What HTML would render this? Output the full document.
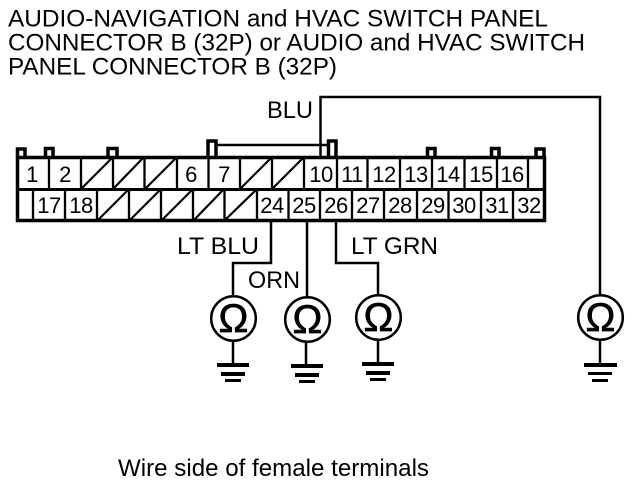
<!DOCTYPE html>
<html>
<head>
<meta charset="utf-8">
<style>
html,body{margin:0;padding:0;background:#fff;width:640px;height:490px;overflow:hidden}
svg{display:block}
text{font-family:"Liberation Sans",sans-serif;fill:#000}
.t{font-size:24px}
.n{font-size:22px;text-anchor:middle;letter-spacing:-0.5px}
.l{font-size:24px}
.o{font-size:40px;text-anchor:middle;stroke:#000;stroke-width:0.7px}
</style>
</head>
<body>
<svg width="640" height="490" viewBox="0 0 640 490" xmlns="http://www.w3.org/2000/svg">
<rect width="640" height="490" fill="#fff"/>
<text class="t" x="8" y="26.5" textLength="540" lengthAdjust="spacingAndGlyphs">AUDIO-NAVIGATION and HVAC SWITCH PANEL</text>
<text class="t" x="8" y="50.5" textLength="577" lengthAdjust="spacingAndGlyphs">CONNECTOR B (32P) or AUDIO and HVAC SWITCH</text>
<text class="t" x="8" y="74.5" textLength="329" lengthAdjust="spacingAndGlyphs">PANEL CONNECTOR B (32P)</text>

<g fill="none" stroke="#000" stroke-width="2">
<path d="M320.5 157V97H600V296" stroke-width="2.5"/>
<path d="M217 145H328" stroke-width="2.5"/>
<path d="M17.5 157V149H25V157M45.500 157V148.500H53V157M108 157V148.500H117V157M208 157V141H216V157M328.500 157V141H336V157M427.500 157V148.500H435V157M491.500 157V148.500H499V157M536 157V149H544V157" stroke-width="3.5"/>
<path d="M17.500 157.500H544.500V220.500H17.500Z" stroke-width="3.500"/>
<path d="M17 189.500H545" stroke-width="3"/>
<path d="M49 157V189M81 157V189M113 157V189M144.500 157V189M177 157V189M208.500 157V189M240 157V189M272 157V189M304 157V189M337 157V189M367.500 157V189M400 157V189M432 157V189M464.500 157V189M497 157V189M528 157V189" stroke-width="2.300"/>
<path d="M33 189V221M65 189V221M97 189V221M129 189V221M161 189V221M193 189V221M224.500 189V221M257 189V221M288.500 189V221M320 189V221M352 189V221M384 189V221M417 189V221M448.500 189V221M481 189V221M513 189V221" stroke-width="2.300"/>
<path d="M82 188L112 158M114 188L143 158M146 188L176 158M241 188L271 158M273 188L303 158" stroke-width="2.200"/>
<path d="M98 220L128 190M130 220L160 190M162 220L192 190M194 220L223 190M225 220L256 190" stroke-width="2.200"/>
<path d="M271 221V263H233V296" stroke-width="2.500"/>
<path d="M307 221V296" stroke-width="2.500"/>
<path d="M336 221V263H378V295" stroke-width="2.500"/>
<circle cx="233.500" cy="318.500" r="22.300" stroke-width="2.500"/>
<circle cx="307.500" cy="319.500" r="22.300" stroke-width="2.500"/>
<circle cx="378.500" cy="317.500" r="22.300" stroke-width="2.500"/>
<circle cx="600.500" cy="317.500" r="22.300" stroke-width="2.500"/>
<path d="M233 341V364M306 342V365M378 340V363M600 340V364" stroke-width="2.500"/>
</g>
<g fill="#000">
<rect x="217" y="363" width="32" height="4"/><rect x="221" y="372" width="24" height="4"/><rect x="225" y="379" width="16" height="3"/>
<rect x="291" y="364" width="32" height="4"/><rect x="295" y="373" width="24" height="4"/><rect x="299" y="380" width="16" height="3"/>
<rect x="362" y="362" width="32" height="4"/><rect x="366" y="371" width="24" height="4"/><rect x="370" y="378" width="16" height="3"/>
<rect x="584" y="363" width="33" height="4"/><rect x="588" y="372" width="24" height="3"/><rect x="592" y="379" width="16" height="3"/>
</g>
<g>
<text class="n" x="32" y="182">1</text><text class="n" x="65" y="182">2</text>
<text class="n" x="191" y="182">6</text><text class="n" x="224" y="182">7</text>
<text class="n" x="321" y="182">10</text><text class="n" x="352" y="182">11</text><text class="n" x="384" y="182">12</text><text class="n" x="416" y="182">13</text><text class="n" x="448" y="182">14</text><text class="n" x="481" y="182">15</text><text class="n" x="512" y="182">16</text>
<text class="n" x="49" y="213">17</text><text class="n" x="81" y="213">18</text>
<text class="n" x="272" y="213">24</text><text class="n" x="304" y="213">25</text><text class="n" x="336" y="213">26</text><text class="n" x="368" y="213">27</text><text class="n" x="400" y="213">28</text><text class="n" x="433" y="213">29</text><text class="n" x="464" y="213">30</text><text class="n" x="497" y="213">31</text><text class="n" x="529" y="213">32</text>
</g>
<text class="l" x="267" y="118" textLength="46" lengthAdjust="spacingAndGlyphs">BLU</text>
<text class="l" x="177" y="254" textLength="82" lengthAdjust="spacingAndGlyphs">LT BLU</text>
<text class="l" x="351" y="254" textLength="87" lengthAdjust="spacingAndGlyphs">LT GRN</text>
<text class="l" x="248" y="288" textLength="52" lengthAdjust="spacingAndGlyphs">ORN</text>
<text class="o" x="233.500" y="332">Ω</text>
<text class="o" x="307.500" y="333">Ω</text>
<text class="o" x="378.500" y="331">Ω</text>
<text class="o" x="600.500" y="331">Ω</text>
<text class="l" x="118" y="476" textLength="311" lengthAdjust="spacingAndGlyphs">Wire side of female terminals</text>
</svg>
</body>
</html>
